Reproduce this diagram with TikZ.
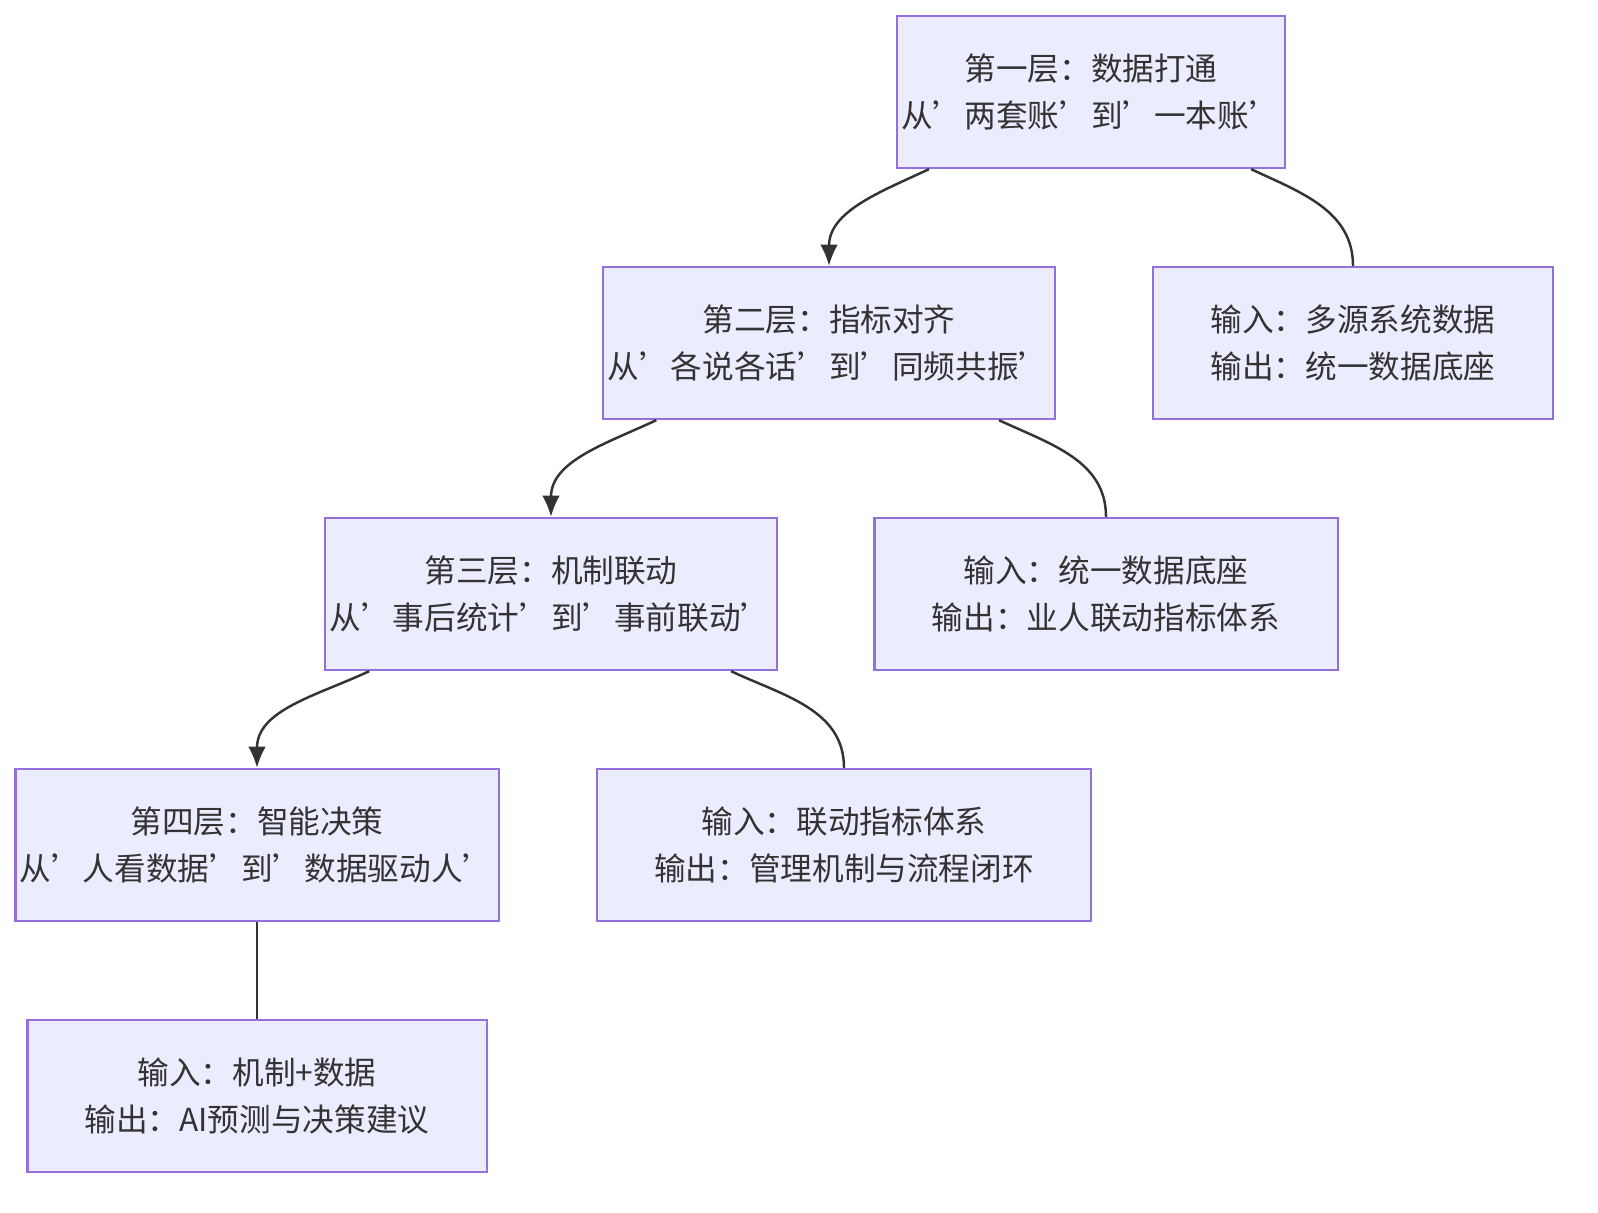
\documentclass[tikz,border=0pt]{standalone}
\usepackage{fontspec}
\setmainfont{Noto Sans CJK SC}
\usetikzlibrary{calc,arrows.meta}
\definecolor{boxfill}{HTML}{ECECFF}
\definecolor{boxline}{HTML}{9370DB}
\definecolor{edgeline}{HTML}{333333}
\newcommand{\sq}{\symbol{"27}}
\tikzset{
  layer/.style={draw=boxline, fill=boxfill, line width=0.65pt, align=center,
    font=\fontsize{9}{13.6}\selectfont, text=edgeline, inner sep=0pt},
  link/.style={draw=edgeline, line width=0.7pt},
  flow/.style={link, -{Latex[length=6pt,width=5pt]}}
}
\begin{document}
\begin{tikzpicture}[x=0.01cm,y=-0.01cm]
\useasboundingbox (0,0) rectangle (1598,1212);

% les couches
\node[layer, minimum width=3.88cm, minimum height=1.52cm] (l1) at (1091,92) {第一层：数据打通\\从\sq 两套账\sq 到\sq 一本账\sq};
\node[layer, minimum width=4.52cm, minimum height=1.52cm] (l2) at (829,343) {第二层：指标对齐\\从\sq 各说各话\sq 到\sq 同频共振\sq};
\node[layer, minimum width=4.00cm, minimum height=1.52cm] (io1) at (1353,343) {输入：多源系统数据\\输出：统一数据底座};
\node[layer, minimum width=4.52cm, minimum height=1.52cm] (l3) at (551,594) {第三层：机制联动\\从\sq 事后统计\sq 到\sq 事前联动\sq};
\node[layer, minimum width=4.63cm, minimum height=1.52cm] (io2) at (1106,594) {输入：统一数据底座\\输出：业人联动指标体系};
\node[layer, minimum width=4.83cm, minimum height=1.52cm] (l4) at (257,845) {第四层：智能决策\\从\sq 人看数据\sq 到\sq 数据驱动人\sq};
\node[layer, minimum width=4.94cm, minimum height=1.52cm] (io3) at (844,845) {输入：联动指标体系\\输出：管理机制与流程闭环};
\node[layer, minimum width=4.59cm, minimum height=1.52cm] (io4) at (257,1096) {输入：机制+数据\\输出：AI预测与决策建议};

% les liens
\draw[flow] ($(l1.south west)!0.085!(l1.south east)$) to[out=-155,in=90] (l2.north);
\draw[link] ($(l1.south west)!0.91!(l1.south east)$) to[out=-25,in=90] (io1.north);
\draw[flow] ($(l2.south west)!0.12!(l2.south east)$) to[out=-155,in=90] (l3.north);
\draw[link] ($(l2.south west)!0.874!(l2.south east)$) to[out=-25,in=90] (io2.north);
\draw[flow] ($(l3.south west)!0.10!(l3.south east)$) to[out=-155,in=90] (l4.north);
\draw[link] ($(l3.south west)!0.896!(l3.south east)$) to[out=-25,in=90] (io3.north);
\draw[link] (l4.south) -- (io4.north);
\end{tikzpicture}
\end{document}
